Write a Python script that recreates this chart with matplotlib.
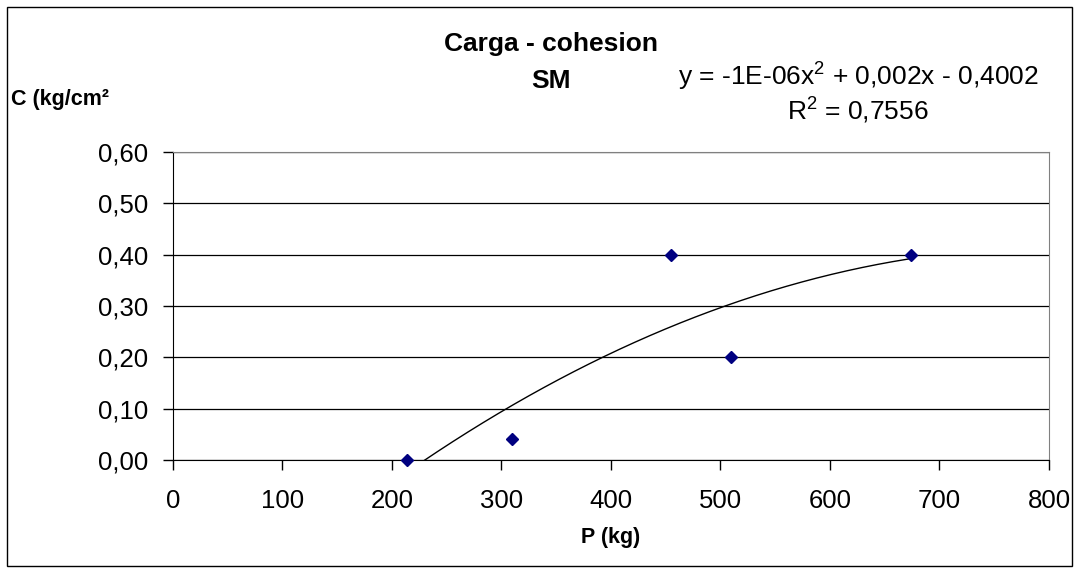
import numpy as np
import matplotlib
matplotlib.use("Agg")
import matplotlib.pyplot as plt
from matplotlib.patches import Rectangle

plt.rcParams['font.family'] = ['Liberation Sans', 'DejaVu Sans']
plt.rcParams['mathtext.fontset'] = 'custom'
plt.rcParams['mathtext.rm'] = 'Liberation Sans'
plt.rcParams['mathtext.it'] = 'Liberation Sans:italic'

# data
carga = [214, 310, 455, 510, 674]          # P (kg)
cohesion = [0.00, 0.04, 0.40, 0.20, 0.40]  # C (kg/cm2)

x_ticks = [0, 100, 200, 300, 400, 500, 600, 700, 800]
y_ticks = [0.0, 0.1, 0.2, 0.3, 0.4, 0.5, 0.6]
y_ticklabels = ["0,00", "0,10", "0,20", "0,30", "0,40", "0,50", "0,60"]

eq_text = r"y = -1E-06x$^2$ + 0,002x - 0,4002"
r2_text = r"R$^2$ = 0,7556"

fig = plt.figure(figsize=(10.79, 5.73), dpi=100)
ax = fig.add_axes([0.1603, 0.1972, 0.9722 - 0.1603, 0.7347 - 0.1972])

# outer frame of the chart
fig.patches.append(Rectangle((0.0065, 0.012), 0.987, 0.976, transform=fig.transFigure,
                             fill=False, edgecolor="black", linewidth=1.0))

ax.set_axisbelow(True)
ax.grid(axis="y", color="black", linewidth=0.9)

# polynomial (order 2) trendline
coef = np.polyfit(carga, cohesion, 2)
xs = np.linspace(min(carga), max(carga), 300)
ax.plot(xs, np.polyval(coef, xs), color="black", linewidth=1.0, zorder=2)

ax.plot(carga, cohesion, linestyle="none", marker="D", markersize=5.8,
        color="#000080", zorder=3, clip_on=False)

ax.set_xlim(0, 800)
ax.set_ylim(0, 0.6)
ax.set_xticks(x_ticks)
ax.set_yticks(y_ticks)
ax.set_yticklabels(y_ticklabels)
ax.tick_params(direction="out", length=7, width=1.0, labelsize=18.5)
ax.tick_params(axis="x", pad=14)
ax.tick_params(axis="y", pad=11)

for s in ("top", "right"):
    ax.spines[s].set_color("#808080")
ax.spines["left"].set_color("black")
ax.spines["bottom"].set_color("black")

ax.set_xlabel("P (kg)", fontsize=15.5, fontweight="bold", va="center")
ax.xaxis.set_label_coords(0.5, -0.253)

fig.text(0.0105, 1 - 99 / 573, "C (kg/cm²", fontsize=15.5, fontweight="bold",
         ha="left", va="center")
fig.text(551 / 1079, 1 - 44 / 573, "Carga - cohesion", fontsize=19, fontweight="bold",
         ha="center", va="center")
fig.text(551 / 1079, 1 - 81 / 573, "SM", fontsize=19, fontweight="bold",
         ha="center", va="center")
fig.text(858 / 1079, 1 - 77 / 573, eq_text, fontsize=19, ha="center", va="center")
fig.text(858 / 1079, 1 - 111 / 573, r2_text, fontsize=19, ha="center", va="center")

fig.savefig("out.png", dpi=100)
